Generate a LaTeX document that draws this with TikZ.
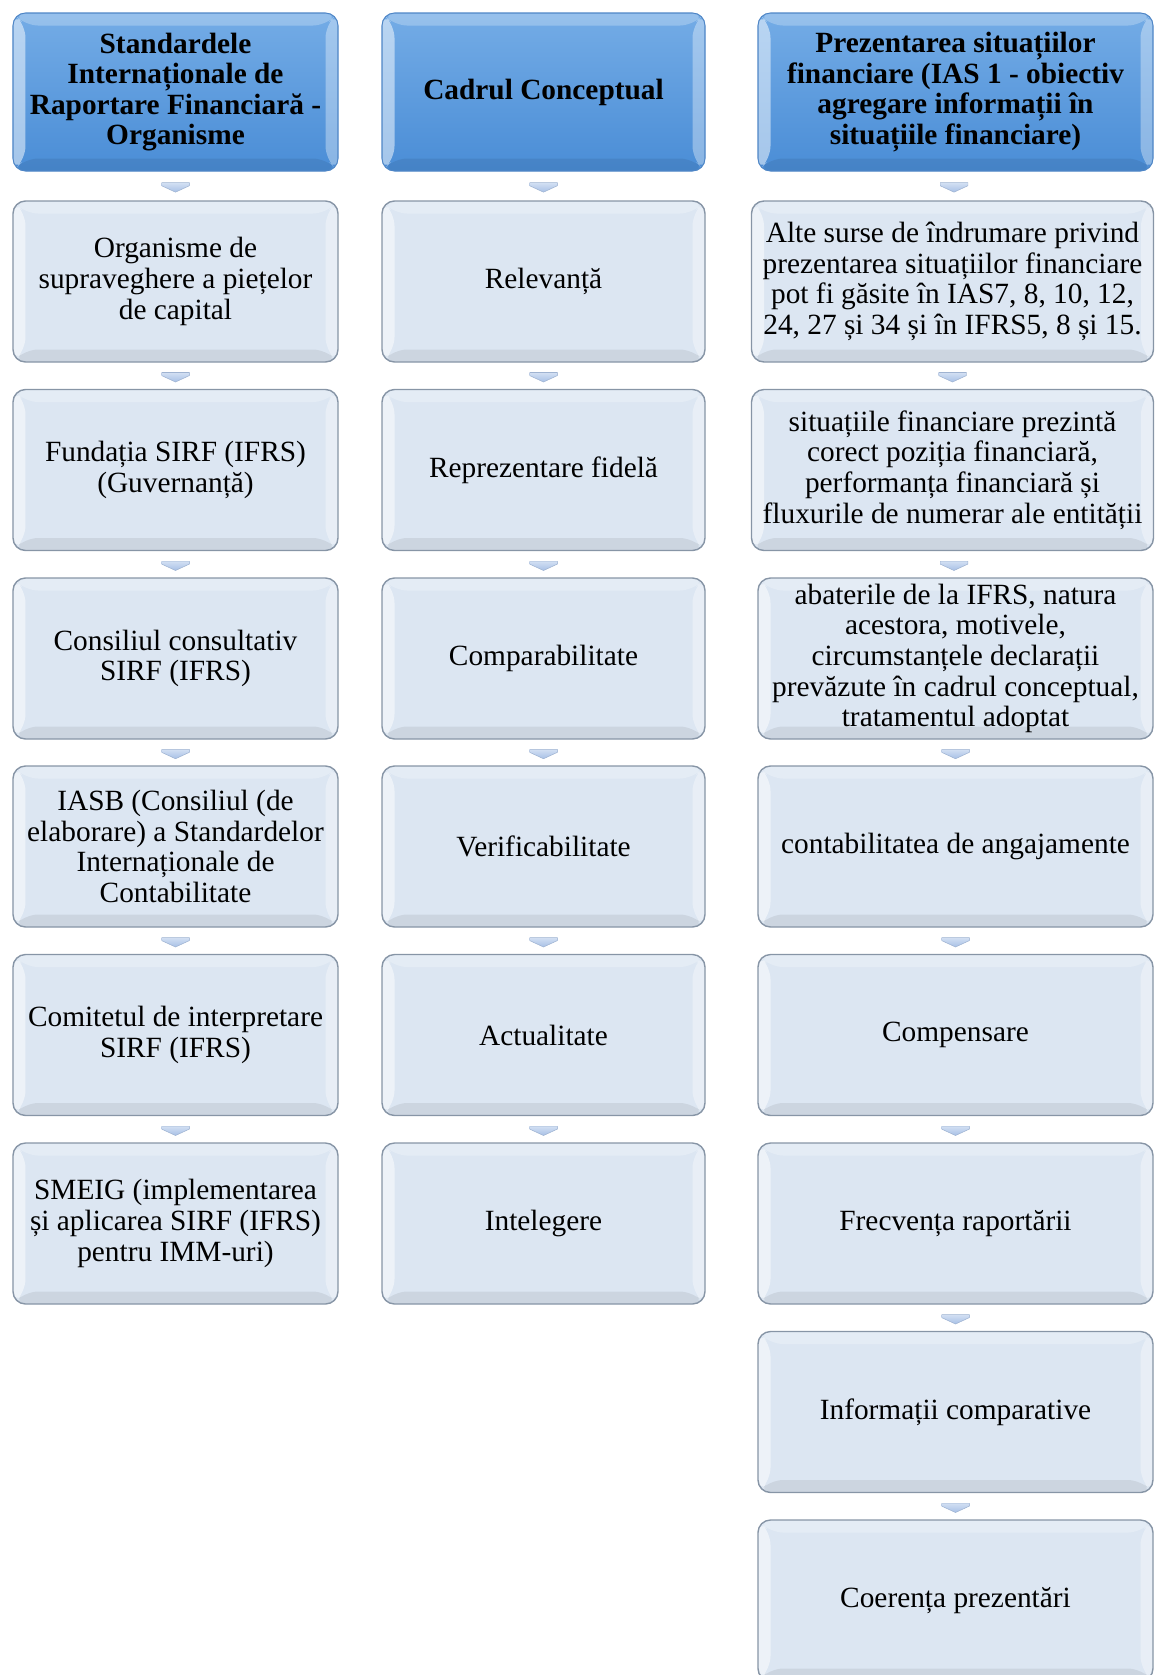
\documentclass[tikz,border=0pt]{standalone}
\usepackage{fontspec}
\setmainfont{Liberation Serif}
\usetikzlibrary{calc}
\definecolor{HeadTop}{HTML}{74ACE6}
\definecolor{HeadBot}{HTML}{4A8DD6}
\definecolor{HeadLine}{HTML}{4F86C6}
\definecolor{FaceBlue}{HTML}{DCE6F2}
\definecolor{LineGray}{HTML}{8795A6}
\definecolor{ArrowTop}{HTML}{D3E0F3}
\definecolor{ArrowBot}{HTML}{A7C0E6}
\newcommand{\boxfont}{\fontsize{16.7}{17.4}\selectfont}
\newcommand{\bevelfaces}{%
  \path (path picture bounding box.north west) coordinate (bNW)
        (path picture bounding box.north east) coordinate (bNE)
        (path picture bounding box.south west) coordinate (bSW)
        (path picture bounding box.south east) coordinate (bSE);
  \fill[white, opacity=0.5] (bNW) -- ([shift={(0.25,-0.25)}]bNW) -- ([shift={(0.25,0.25)}]bSW) -- (bSW) -- cycle;
  \fill[white, opacity=0.25] (bNW) -- (bNE) -- ([shift={(-0.25,-0.25)}]bNE) -- ([shift={(0.25,-0.25)}]bNW) -- cycle;
  \fill[white, opacity=0.35] (bNE) -- (bSE) -- ([shift={(-0.25,0.25)}]bSE) -- ([shift={(-0.25,-0.25)}]bNE) -- cycle;
  \fill[black, opacity=0.07] (bSW) -- ([shift={(0.25,0.25)}]bSW) -- ([shift={(-0.25,0.25)}]bSE) -- (bSE) -- cycle;
}
\tikzset{
  head/.style={draw=HeadLine, line width=0.6pt, rounded corners=0.25cm, top color=HeadTop, bottom color=HeadBot, align=center, minimum height=3.16cm, inner sep=1pt, font=\boxfont\bfseries, path picture={\bevelfaces}},
  item/.style={draw=LineGray, line width=0.8pt, rounded corners=0.25cm, fill=FaceBlue, align=center, minimum height=3.22cm, inner sep=1pt, font=\boxfont, path picture={\bevelfaces}},
  downarrow/.style={inner sep=0pt, minimum width=0.56cm, minimum height=0.19cm, yshift=-0.03cm, path picture={
    \shadedraw[top color=ArrowTop, bottom color=ArrowBot, draw=ArrowBot!80!gray, line width=0.3pt]
      (path picture bounding box.north west) -- (path picture bounding box.north east)
      -- ([yshift=-0.06cm]path picture bounding box.north east) -- (path picture bounding box.south)
      -- ([yshift=-0.06cm]path picture bounding box.north west) -- cycle;}}
}

\begin{document}
\begin{tikzpicture}
\path[use as bounding box, clip] (0,0) rectangle (23.08,-33.5);
% column 1
\node[head, minimum width=6.5cm] (h1) at (3.51,-1.84) {Standardele\\Internaționale de\\Raportare Financiară -\\Organisme};
\node[item, minimum width=6.5cm] (a1) at (3.51,-5.63) {Organisme de\\supraveghere a piețelor\\de capital};
\node[item, minimum width=6.5cm] (a2) at (3.51,-9.40) {Fundația SIRF (IFRS)\\(Guvernanță)};
\node[item, minimum width=6.5cm] (a3) at (3.51,-13.17) {Consiliul consultativ\\SIRF (IFRS)};
\node[item, minimum width=6.5cm] (a4) at (3.51,-16.93) {IASB (Consiliul (de\\elaborare) a Standardelor\\Internaționale de\\Contabilitate};
\node[item, minimum width=6.5cm] (a5) at (3.51,-20.70) {Comitetul de interpretare\\SIRF (IFRS)};
\node[item, minimum width=6.5cm] (a6) at (3.51,-24.47) {SMEIG (implementarea\\și aplicarea SIRF (IFRS)\\pentru IMM-uri)};
% column 2
\node[head, minimum width=6.46cm] (h2) at (10.87,-1.84) {Cadrul Conceptual};
\node[item, minimum width=6.46cm] (b1) at (10.87,-5.63) {Relevanță};
\node[item, minimum width=6.46cm] (b2) at (10.87,-9.40) {Reprezentare fidelă};
\node[item, minimum width=6.46cm] (b3) at (10.87,-13.17) {Comparabilitate};
\node[item, minimum width=6.46cm] (b4) at (10.87,-16.93) {Verificabilitate};
\node[item, minimum width=6.46cm] (b5) at (10.87,-20.70) {Actualitate};
\node[item, minimum width=6.46cm] (b6) at (10.87,-24.47) {Intelegere};
% column 3
\node[head, minimum width=7.9cm] (h3) at (19.11,-1.84) {Prezentarea situațiilor\\financiare (IAS 1 - obiectiv\\agregare informații în\\situațiile financiare)};
\node[item, minimum width=8.04cm] (c1) at (19.05,-5.63) {Alte surse de îndrumare privind\\prezentarea situațiilor financiare\\pot fi găsite în IAS7, 8, 10, 12,\\24, 27 și 34 și în IFRS5, 8 și 15.};
\node[item, minimum width=8.04cm] (c2) at (19.05,-9.40) {situațiile financiare prezintă\\corect poziția financiară,\\performanța financiară și\\fluxurile de numerar ale entității};
\node[item, minimum width=7.9cm] (c3) at (19.11,-13.17) {abaterile de la IFRS, natura\\acestora, motivele,\\circumstanțele declarații\\prevăzute în cadrul conceptual,\\tratamentul adoptat};
\node[item, minimum width=7.9cm] (c4) at (19.11,-16.93) {contabilitatea de angajamente};
\node[item, minimum width=7.9cm] (c5) at (19.11,-20.70) {Compensare};
\node[item, minimum width=7.9cm] (c6) at (19.11,-24.47) {Frecvența raportării};
\node[item, minimum width=7.9cm] (c7) at (19.11,-28.24) {Informații comparative};
\node[item, minimum width=7.9cm] (c8) at (19.11,-32.01) {Coerența prezentări};
% small arrows
\path (h1) -- (a1) node[midway, downarrow] {};
\path (a1) -- (a2) node[midway, downarrow] {};
\path (a2) -- (a3) node[midway, downarrow] {};
\path (a3) -- (a4) node[midway, downarrow] {};
\path (a4) -- (a5) node[midway, downarrow] {};
\path (a5) -- (a6) node[midway, downarrow] {};
\path (h2) -- (b1) node[midway, downarrow] {};
\path (b1) -- (b2) node[midway, downarrow] {};
\path (b2) -- (b3) node[midway, downarrow] {};
\path (b3) -- (b4) node[midway, downarrow] {};
\path (b4) -- (b5) node[midway, downarrow] {};
\path (b5) -- (b6) node[midway, downarrow] {};
\path (h3) -- (c1) node[midway, downarrow] {};
\path (c1) -- (c2) node[midway, downarrow] {};
\path (c2) -- (c3) node[midway, downarrow] {};
\path (c3) -- (c4) node[midway, downarrow] {};
\path (c4) -- (c5) node[midway, downarrow] {};
\path (c5) -- (c6) node[midway, downarrow] {};
\path (c6) -- (c7) node[midway, downarrow] {};
\path (c7) -- (c8) node[midway, downarrow] {};
\end{tikzpicture}
\end{document}
